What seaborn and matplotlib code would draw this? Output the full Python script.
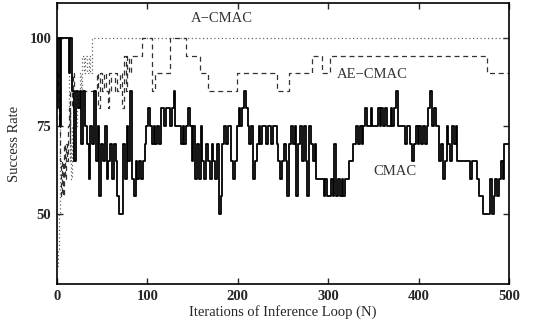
import numpy as np
import pandas as pd
import matplotlib
matplotlib.use("Agg")
import matplotlib.pyplot as plt
import seaborn as sns

# ---- data ----
cmac_step = 2
cmac_values = [
    80, 100, 75, 100, 100, 100, 100, 90, 100, 85,
    65, 85, 80, 85, 70, 85, 75, 70, 60, 75,
    70, 85, 65, 75, 55, 70, 65, 75, 60, 65,
    70, 60, 70, 65, 55, 50, 50, 70, 60, 75,
    65, 85, 60, 55, 65, 60, 65, 60, 65, 70,
    75, 80, 75, 70, 75, 70, 75, 70, 80, 80,
    75, 80, 80, 75, 80, 85, 75, 75, 75, 70,
    75, 70, 75, 80, 75, 65, 75, 60, 70, 60,
    75, 65, 60, 70, 65, 60, 70, 65, 60, 70,
    50, 55, 70, 75, 70, 75, 75, 65, 60, 65,
    75, 80, 75, 80, 85, 80, 75, 70, 75, 60,
    65, 70, 75, 70, 75, 75, 70, 75, 75, 70,
    75, 75, 70, 65, 60, 65, 70, 65, 55, 70,
    75, 70, 75, 55, 70, 75, 65, 75, 65, 55,
    75, 70, 65, 70, 60, 60, 60, 60, 55, 60,
    55, 55, 60, 55, 70, 55, 60, 55, 60, 55,
    60, 60, 65, 65, 70, 70, 75, 70, 75, 70,
    75, 80, 75, 75, 80, 75, 75, 75, 80, 75,
    80, 75, 80, 75, 75, 80, 75, 80, 85, 75,
    75, 75, 75, 70, 75, 75, 70, 65, 70, 75,
    70, 75, 70, 75, 70, 75, 80, 85, 75, 80,
    75, 75, 65, 70, 60, 65, 75, 70, 65, 75,
    70, 75, 65, 65, 65, 65, 65, 65, 65, 60,
    65, 65, 65, 60, 55, 55, 50, 50, 50, 50,
    60, 50, 55, 60, 55, 60, 65, 60, 70, 70,
    70,
]
cmac_iters = list(range(0, cmac_step * len(cmac_values), cmac_step))

a_iters = [0, 1, 2, 3, 12, 13, 14, 15, 16, 17, 18, 19, 20, 22, 24, 26, 27, 28,
           30, 31, 33, 35, 37, 39, 500]
a_values = [35, 40, 50, 100, 100, 80, 65, 70, 60, 75, 65, 80, 75, 85, 80, 90, 85, 95,
            90, 95, 90, 95, 90, 100, 100]

ae_iters = [0, 1, 2, 3, 4, 5, 6, 7, 8, 9, 10, 11, 12, 13, 14, 15, 17, 18, 19,
            44, 46, 48, 50, 52, 54, 56, 58, 60, 64, 66, 70, 72, 74, 76, 78, 80, 82,
            94, 105, 108, 125, 143, 158, 167, 199, 244, 257, 282, 293, 302, 476, 500]
ae_values = [90, 85, 75, 65, 60, 55, 65, 55, 70, 60, 70, 65, 75, 80, 70, 85, 80, 90, 85,
             90, 80, 90, 85, 90, 85, 80, 90, 85, 90, 85, 90, 80, 95, 85, 95, 90, 95,
             100, 85, 90, 100, 95, 90, 85, 90, 85, 90, 95, 90, 95, 90, 90]

x_ticks = [0, 100, 200, 300, 400, 500]
y_ticks = [50, 75, 100]
x_label = "Iterations of Inference Loop (N)"
y_label = "Success Rate"

# ---- plot ----
sns.set_style("ticks")
plt.rcParams["font.family"] = ["Liberation Serif", "DejaVu Serif"]

fig = plt.figure(figsize=(5.42, 3.28), dpi=100)
ax = fig.add_axes([0.105, 0.134, 0.834, 0.857])

df_c = pd.DataFrame({"N": cmac_iters, "v": cmac_values})
df_a = pd.DataFrame({"N": a_iters, "v": a_values})
df_ae = pd.DataFrame({"N": ae_iters, "v": ae_values})

sns.lineplot(data=df_a, x="N", y="v", ax=ax, estimator=None, sort=False,
             color="#666666", lw=0.9, linestyle=(0, (1, 2)), drawstyle="steps-post")
sns.lineplot(data=df_ae, x="N", y="v", ax=ax, estimator=None, sort=False,
             color="#333333", lw=0.9, linestyle=(0, (4, 3)), drawstyle="steps-post")
sns.lineplot(data=df_c, x="N", y="v", ax=ax, estimator=None, sort=False,
             color="black", lw=1.3, drawstyle="steps-mid")

ax.set_xlim(0, 500)
ax.set_ylim(30, 110)
ax.set_xticks(x_ticks)
ax.set_yticks(y_ticks)
ax.set_xlabel(x_label, fontsize=10.5, labelpad=2)
ax.set_ylabel(y_label, fontsize=10.5, labelpad=6)
ax.tick_params(direction="in", top=True, right=True, length=4, width=1,
               labelsize=10.5, pad=4)
for lbl in ax.get_xticklabels() + ax.get_yticklabels():
    lbl.set_fontweight("bold")
for s in ax.spines.values():
    s.set_linewidth(1.2)
    s.set_color("black")

ax.text(182, 105.5, "A\u2212CMAC", fontsize=10.5, ha="center", va="center", color="#333333")
ax.text(349, 89.5, "AE\u2212CMAC", fontsize=10.5, ha="center", va="center", color="#333333")
ax.text(374, 62, "CMAC", fontsize=10.5, ha="center", va="center", color="#333333")

fig.savefig("out.png", dpi=100)
